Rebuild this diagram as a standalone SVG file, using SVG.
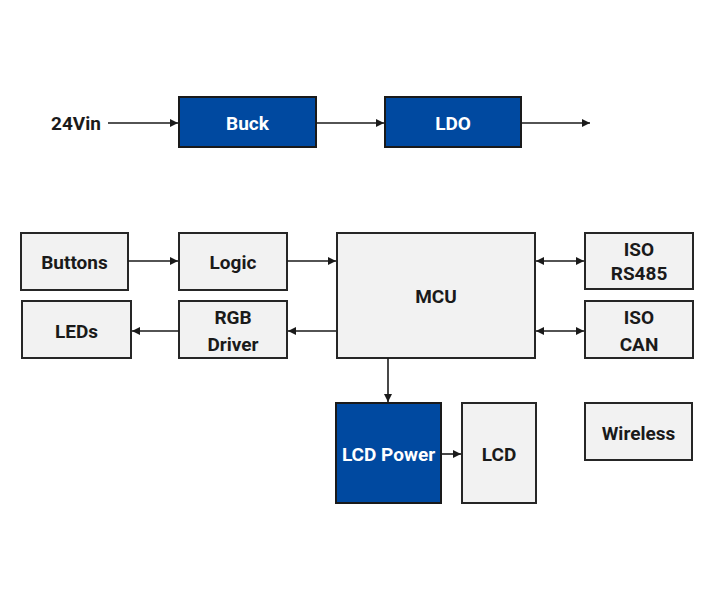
<svg xmlns="http://www.w3.org/2000/svg" width="720" height="600" viewBox="0 0 720 600">
<style>
.b{fill:#f2f2f2;stroke:#262626;stroke-width:2}
.p{fill:#0049a0;stroke:#1a1a1a;stroke-width:2}
.t{font-family:Roboto,"Liberation Sans",sans-serif;font-weight:bold;font-size:19px;text-anchor:middle;fill:#1a1a1a}
.w{fill:#ffffff}
.c{stroke:#1a1a1a;stroke-width:1.6;fill:none}
</style>
<defs>
<marker id="a" viewBox="0 0 10 10" refX="10" refY="5" markerWidth="5" markerHeight="5" orient="auto-start-reverse" markerUnits="strokeWidth">
<path d="M0,0 L10,5 L0,10 z" fill="#1a1a1a"/>
</marker>
</defs>
<rect width="720" height="600" fill="#ffffff"/>
<text class="t" x="76" y="130">24Vin</text>
<g id="buck"><rect class="p" x="179" y="97" width="137" height="50"/><text class="t w" x="247.5" y="130">Buck</text></g>
<g id="ldo"><rect class="p" x="385" y="97" width="136" height="50"/><text class="t w" x="453" y="130">LDO</text></g>
<g id="buttons"><rect class="b" x="21" y="233" width="107" height="57"/><text class="t" x="74.5" y="269">Buttons</text></g>
<g id="logic"><rect class="b" x="179" y="233" width="108" height="57"/><text class="t" x="233" y="269">Logic</text></g>
<g id="mcu"><rect class="b" x="337" y="233" width="198" height="125"/><text class="t" x="436" y="303">MCU</text></g>
<g id="rs485"><rect class="b" x="585" y="233" width="108" height="56"/><text class="t" x="639" y="256">ISO</text><text class="t" x="639" y="280">RS485</text></g>
<g id="leds"><rect class="b" x="22" y="301" width="109" height="57"/><text class="t" x="76.5" y="338">LEDs</text></g>
<g id="rgb"><rect class="b" x="179" y="301" width="108" height="57"/><text class="t" x="233" y="324">RGB</text><text class="t" x="233" y="351">Driver</text></g>
<g id="can"><rect class="b" x="585" y="301" width="108" height="57"/><text class="t" x="639" y="324">ISO</text><text class="t" x="639" y="351">CAN</text></g>
<g id="lcdpower"><rect class="p" x="336" y="403" width="105" height="100"/><text class="t w" x="388.5" y="461">LCD Power</text></g>
<g id="lcd"><rect class="b" x="462" y="403" width="74" height="100"/><text class="t" x="499" y="461">LCD</text></g>
<g id="wireless"><rect class="b" x="585" y="403" width="107" height="57"/><text class="t" x="638.5" y="440">Wireless</text></g>
<g id="connectors">
<line class="c" x1="108" y1="123" x2="178" y2="123" marker-end="url(#a)"/>
<line class="c" x1="316" y1="123" x2="384" y2="123" marker-end="url(#a)"/>
<line class="c" x1="521" y1="123" x2="590" y2="123" marker-end="url(#a)"/>
<line class="c" x1="128" y1="261" x2="178" y2="261" marker-end="url(#a)"/>
<line class="c" x1="287" y1="261" x2="336" y2="261" marker-end="url(#a)"/>
<line class="c" x1="336" y1="331" x2="288" y2="331" marker-end="url(#a)"/>
<line class="c" x1="179" y1="331" x2="132" y2="331" marker-end="url(#a)"/>
<line class="c" x1="536" y1="261" x2="584" y2="261" marker-start="url(#a)" marker-end="url(#a)"/>
<line class="c" x1="536" y1="331" x2="584" y2="331" marker-start="url(#a)" marker-end="url(#a)"/>
<line class="c" x1="388" y1="358" x2="388" y2="402" marker-end="url(#a)"/>
<line class="c" x1="441" y1="454" x2="461" y2="454" marker-end="url(#a)"/>
</g>
</svg>
